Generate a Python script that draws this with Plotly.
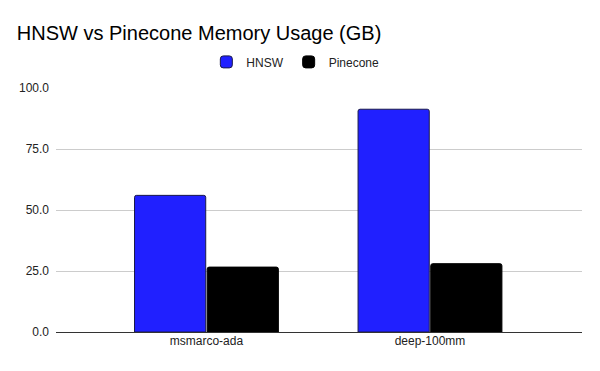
import plotly.graph_objects as go

categories = ["msmarco-ada", "deep-100mm"]
hnsw = [56.0, 91.3]
pinecone = [26.6, 28.0]
y_ticks = [0, 25, 50, 75, 100]
y_tick_labels = ["0.0", "25.0", "50.0", "75.0", "100.0"]

fig = go.Figure()
fig.add_trace(go.Bar(name="HNSW", x=categories, y=hnsw,
                     marker=dict(color="#2020ff", line=dict(color="#1a1a4a", width=1), cornerradius=2)))
fig.add_trace(go.Bar(name="Pinecone", x=categories, y=pinecone,
                     marker=dict(color="#000000", line=dict(color="#000000", width=1), cornerradius=2)))

fig.update_layout(
    width=600, height=371,
    margin=dict(l=56, r=18, t=88, b=39),
    paper_bgcolor="white", plot_bgcolor="white",
    font=dict(family="Liberation Sans, Arial, sans-serif", size=12, color="#222222"),
    title=dict(text="HNSW vs Pinecone Memory Usage (GB)", x=0.028, xanchor="left",
               y=0.912, yanchor="middle", font=dict(size=20, color="#000000",
               family="Liberation Sans, Arial, sans-serif")),
    legend=dict(orientation="h", x=0.455, xanchor="center", y=1.107, yanchor="middle",
                font=dict(size=12, color="#222222"), itemwidth=30),
    barmode="group", bargap=0.35, bargroupgap=0.02,
    showlegend=True,
)
fig.update_xaxes(range=[-0.673, 1.68], showgrid=False, showline=False, ticks="",
                 tickfont=dict(size=12, color="#222222"))
fig.update_yaxes(range=[0, 100], tickvals=y_ticks, ticktext=y_tick_labels,
                 showgrid=True, gridcolor="#cccccc", gridwidth=1, zeroline=True,
                 zerolinecolor="#333333", zerolinewidth=1, ticks="",
                 tickfont=dict(size=12, color="#222222"), ticklabelstandoff=6)

fig.write_html("out.html")
